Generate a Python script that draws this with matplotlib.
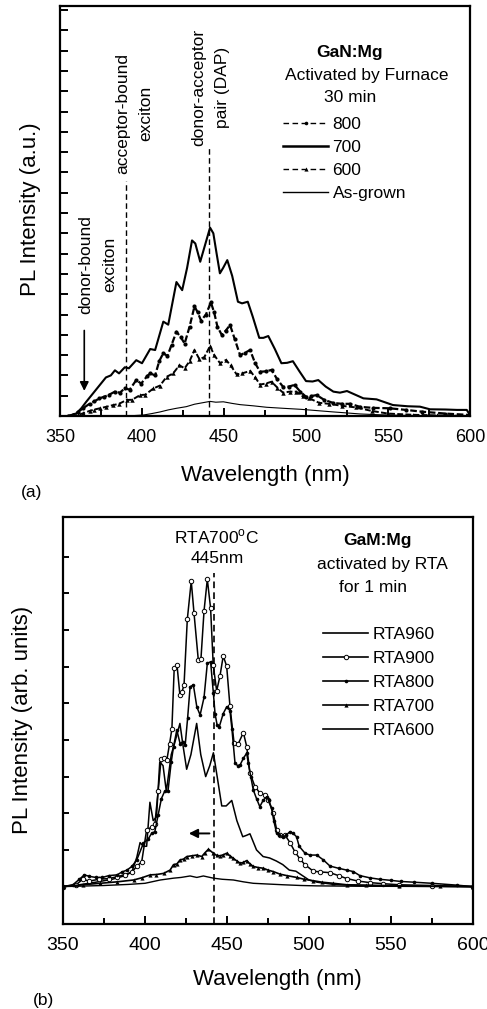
import matplotlib
matplotlib.use("Agg")
import matplotlib.pyplot as plt
from matplotlib.lines import Line2D
from matplotlib.ticker import MultipleLocator

plt.rcParams['font.family'] = ['Liberation Sans', 'DejaVu Sans']

# ---------------- Panel (a) data: furnace activation ----------------
wl_a_800 = [355, 358, 361, 364, 368, 371, 374, 377, 380, 383.5, 386.5, 389.5, 392.5, 396.5, 399.5,
            403, 405, 408, 410.5, 413, 415.5, 418, 421, 423.5, 426, 429, 432, 434, 436, 439, 442,
            444, 446, 448.6, 451, 453.7, 456.5, 459.8, 462.5, 465.9, 469, 472, 475.5, 479, 482.5,
            486, 489.5, 493, 496.5, 500, 503, 506.5, 511, 516.7, 522, 527, 533, 541, 551, 561, 571,
            585, 600]
pl_a_800 = [0, 0.05, 0.2, 0.38, 0.6, 0.72, 0.87, 0.95, 1.05, 1.2, 1.15, 1.36, 1.3, 1.77, 1.6,
            1.95, 2.1, 2.0, 2.7, 3.1, 2.95, 3.5, 4.15, 3.9, 3.57, 4.4, 5.4, 5.1, 4.7, 5.0, 5.6,
            5.1, 4.4, 4.0, 4.2, 4.48, 3.8, 3.0, 3.1, 3.25, 2.6, 2.18, 2.2, 2.27, 1.8,
            1.44, 1.45, 1.53, 1.2, 0.95, 0.98, 1.03, 0.8, 0.64, 0.6, 0.6, 0.45, 0.4, 0.38, 0.3, 0.21,
            0.12, 0.05]

wl_a_700 = [355, 360, 363, 366, 370, 374, 378, 381, 383.5, 386, 389.5, 392, 396.5, 400, 405, 408,
            413, 416, 421, 424.5, 427.5, 430.5, 432.5, 435.5, 438, 441.5, 443.5, 445.5, 447.5, 449.5,
            452, 455, 458.5, 461, 464.5, 467.5, 471.5, 474, 477, 481, 485, 488.5, 492, 496, 500,
            504, 507.5, 512, 516.7, 520.7, 525, 530, 535, 543, 553, 562, 569.5, 575.6, 585, 592,
            598, 600]
pl_a_700 = [0, 0.13, 0.38, 0.7, 1.1, 1.5, 1.9, 2.0, 2.25, 2.1, 2.4, 2.35, 2.75, 2.6, 3.3, 3.25,
            4.65, 4.5, 6.6, 6.2, 7.3, 8.65, 8.5, 7.6, 8.3, 9.28, 9.0, 8.0, 7.03, 7.3,
            7.68, 6.9, 5.63, 5.55, 5.63, 4.9, 3.85, 3.85, 3.94, 3.3, 2.6, 2.62, 2.7, 2.2, 1.72,
            1.7, 1.77, 1.45, 1.2, 1.15, 1.23, 1.05, 0.87, 0.82, 0.54, 0.48, 0.46, 0.33, 0.32, 0.3,
            0.3, 0.05]

wl_a_600 = [357, 361, 364, 368, 371, 374.4, 378, 382.5, 386, 390.6, 394, 398.8, 402, 407, 411, 415,
            419, 422.8, 426, 429, 432, 435, 438, 441.5, 444, 447.6, 451.2, 454, 457.7, 461, 466,
            469, 472, 475.5, 479, 482.5, 486, 490, 494, 498, 502, 508, 514, 522, 530.7, 540, 550,
            565, 580, 600]
pl_a_600 = [0, 0.05, 0.13, 0.25, 0.32, 0.38, 0.45, 0.54, 0.6, 0.79, 0.8, 1.03, 1.05, 1.36, 1.5, 1.93,
            2.1, 2.5, 2.35, 2.7, 3.25, 2.8, 2.9, 3.45, 3.0, 2.6, 2.76, 2.5, 2.05, 2.1, 2.22,
            1.9, 1.55, 1.6, 1.69, 1.4, 1.15, 1.2, 1.2, 0.97, 0.87, 0.65, 0.6, 0.5, 0.42, 0.25, 0.12,
            0.06, 0.03, 0]

wl_a_asg = [385, 395, 401, 406, 411, 416, 421, 427, 432, 437.4, 441.5, 445, 449.6, 455, 459.8, 468,
            476, 486, 496.7, 506, 516.7, 525, 533, 545, 560, 580, 600]
pl_a_asg = [0, 0.02, 0.05, 0.12, 0.2, 0.3, 0.38, 0.46, 0.58, 0.66, 0.72, 0.68, 0.7, 0.62, 0.56, 0.5,
            0.43, 0.38, 0.33, 0.27, 0.2, 0.15, 0.1, 0.06, 0.03, 0.01, 0]

labels_a = ['800', '700', '600', 'As-grown']

# ---------------- Panel (b) data: RTA activation ----------------
wl_b_960 = [350, 360, 370, 380, 388, 392, 395, 397, 399, 401, 403, 405, 407, 409, 411, 413, 416,
            418, 421.3, 423, 425.4, 428, 431.5, 434, 437, 439.5, 441.7, 444, 446.8, 449.5, 452.9,
            456, 459.6, 462, 464, 468, 472, 476, 480, 484, 488, 492, 496, 500, 505, 515, 530,
            560, 600]
pl_b_960 = [0, 0.05, 0.12, 0.2, 0.3, 0.4, 0.8, 1.2, 1.1, 1.1, 2.3, 1.8, 1.9, 3.4, 3.3, 2.6, 3.6,
            3.9, 4.45, 3.9, 3.2, 3.6, 4.45, 3.6, 3.0, 3.3, 3.65, 3.0, 2.2, 2.2, 2.35,
            1.8, 1.36, 1.4, 1.44, 1.0, 0.82, 0.78, 0.7, 0.6, 0.45, 0.42, 0.3, 0.18, 0.12, 0.06, 0.03,
            0.01, 0]

wl_b_900 = [350, 358, 362, 366, 372, 378, 383, 388, 392, 395, 398, 401, 404, 406, 408, 409.8, 411.5,
            413.3, 415, 416.4, 417.8, 419.5, 421.3, 422.5, 423.8, 425.8, 428.2, 429.9, 432.5, 434.1,
            436, 438, 440, 441.6, 443.7, 445.7, 447.7, 449.8, 451.8, 454.3, 456.9, 460, 462, 464,
            467, 470.1, 473.2, 475.2, 478.2, 480.3, 482.3, 485.3, 488.4, 491.4, 494.5, 497.5,
            502.6, 507, 512.8, 518, 523, 530, 537, 545, 555, 575, 600]
pl_b_900 = [0, 0.05, 0.2, 0.15, 0.2, 0.22, 0.27, 0.33, 0.4, 0.55, 0.68, 1.55, 1.62, 1.7, 2.6, 3.47, 3.5,
            3.45, 3.9, 4.3, 5.95, 6.05, 5.22, 5.3, 5.5, 7.29, 8.33, 7.45, 6.18, 6.2,
            7.52, 8.38, 7.59, 6.04, 5.34, 5.74, 6.29, 6.01, 4.92, 3.92, 3.9, 4.2, 3.82, 3.1,
            2.73, 2.55, 2.5, 2.36, 2.0, 1.55, 1.41, 1.41, 1.2, 0.95, 0.75, 0.6,
            0.42, 0.4, 0.38, 0.3, 0.22, 0.15, 0.11, 0.08, 0.05, 0.03, 0]

wl_b_800 = [350, 356, 360, 363, 366, 370, 374, 378, 383, 386, 389, 392, 395, 399, 402, 404, 406,
            408, 410, 412, 414, 416, 417.4, 419.4, 421.4, 423, 424.5, 426, 427.5, 429.5, 431.6,
            433.6, 436, 438, 440, 441.7, 442.7, 444, 445.3, 447.7, 449.8, 451.8, 453, 454.9, 456.5,
            458, 460, 462, 463, 464.5, 466, 468, 470, 472, 474.2, 475.5, 477.2, 478.5, 480.3, 482,
            484.3, 486, 488.4, 490.4, 492.4, 494, 497.6, 500.6, 504.7, 508.7, 512.8, 518, 523, 527,
            531, 537, 543, 550, 556, 564, 575, 590, 600]
pl_b_800 = [0, 0.05, 0.2, 0.32, 0.28, 0.25, 0.25, 0.3, 0.32, 0.4, 0.45, 0.55, 0.73, 1.18, 1.3, 1.45, 1.5,
            1.95, 2.4, 2.6, 2.6, 3.4, 3.82, 4.27, 3.9, 3.95, 3.86, 4.6, 5.45, 5.5, 4.9,
            4.68, 5.16, 6.09, 6.13, 5.27, 4.72, 4.4, 4.36, 4.72, 4.9, 4.8, 4.3, 3.36, 3.3,
            3.32, 3.5, 3.64, 3.36, 3.0, 2.64, 2.4, 2.18, 2.35, 2.45, 2.35, 2.14, 1.8, 1.45, 1.4,
            1.36, 1.4, 1.5, 1.45, 1.36, 1.1, 0.91, 0.86, 0.86, 0.73, 0.56, 0.5, 0.45, 0.41,
            0.3, 0.24, 0.2, 0.17, 0.14, 0.12, 0.09, 0.04, 0]

wl_b_700 = [350, 362, 372.7, 383, 393, 398, 403.2, 407, 411.3, 415.3, 417.4, 419.5, 421.4, 423.5, 425.5,
            428.5, 431.6, 434.6, 436.5, 438.7, 441.7, 443.8, 445.8, 447.8, 449.8, 451.8, 453.9, 456,
            458, 460, 462, 464, 466, 469, 472.2, 475, 478.2, 482.3, 486.4, 492.5, 497, 502.6,
            508, 514.8, 523, 535, 555, 580, 600]
pl_b_700 = [0, 0.05, 0.09, 0.13, 0.18, 0.24, 0.32, 0.33, 0.36, 0.45, 0.6, 0.62, 0.73, 0.75, 0.82,
            0.84, 0.86, 0.82, 0.92, 1.02, 0.91, 0.85, 0.84, 0.87, 0.91, 0.84, 0.77, 0.7,
            0.64, 0.66, 0.71, 0.62, 0.55, 0.52, 0.5, 0.45, 0.41, 0.34, 0.3, 0.25, 0.2, 0.16,
            0.12, 0.09, 0.05, 0.04, 0.02, 0.01, 0]

wl_b_600 = [350, 375, 390, 400, 409.3, 417.4, 422, 427.5, 431.6, 435.6, 441.7, 447, 453.9, 460, 466,
            475, 484.3, 495, 504.6, 530, 600]
pl_b_600 = [0, 0.03, 0.06, 0.09, 0.18, 0.23, 0.25, 0.29, 0.25, 0.29, 0.23, 0.2, 0.18, 0.13, 0.09,
            0.07, 0.05, 0.03, 0.02, 0.01, 0]

labels_b = ['RTA960', 'RTA900', 'RTA800', 'RTA700', 'RTA600']

# ---------------- figure ----------------
fig = plt.figure(figsize=(4.87, 10.09), dpi=100)
axa = fig.add_axes([60 / 487, 1 - 416 / 1009, 410 / 487, 410 / 1009])
axb = fig.add_axes([63 / 487, 1 - 924 / 1009, 410 / 487, 407 / 1009])

DASH = (0, (4.0, 2.5))
DASH_DATA = (0, (3.0, 1.2))

# ---- panel a ----
axa.plot(wl_a_800, pl_a_800, color='k', lw=1.6, ls=DASH_DATA, marker='o', ms=3.0, mew=0)
axa.plot(wl_a_700, pl_a_700, color='k', lw=1.5)
axa.plot(wl_a_600, pl_a_600, color='k', lw=1.4, ls=DASH_DATA, marker='^', ms=3.2, mew=0)
axa.plot(wl_a_asg, pl_a_asg, color='k', lw=0.8)

axa.set_xlim(350, 600)
axa.set_ylim(0, 20.2)
axa.xaxis.set_major_locator(MultipleLocator(50))
axa.xaxis.set_minor_locator(MultipleLocator(25))
axa.set_yticks(range(1, 21))
axa.set_yticklabels([])
axa.tick_params(axis='both', which='both', direction='in', width=1.4, colors='k')
axa.tick_params(axis='x', which='major', length=6, labelsize=13, pad=9)
axa.tick_params(axis='x', which='minor', length=4)
axa.tick_params(axis='y', which='major', length=6, left=True)
for s in axa.spines.values():
    s.set_linewidth(1.6)

axa.set_xlabel('Wavelength (nm)', fontsize=16)
axa.xaxis.set_label_coords(0.5, -0.12)
axa.set_ylabel('PL Intensity (a.u.)', fontsize=16)
axa.yaxis.set_label_coords(-0.047, 0.505)

# marker lines
axa.plot([390.2, 390.2], [0, 11.6], color='k', lw=1.0, ls=DASH)
axa.plot([441.0, 441.0], [0, 13.2], color='k', lw=1.0, ls=DASH)
axa.annotate('', xy=(364.8, 1.1), xytext=(364.8, 4.35),
             arrowprops=dict(arrowstyle='-|>', color='k', lw=1.2, mutation_scale=13))

axa.text(372.9, 7.45, 'donor-bound\nexciton', rotation=90, ha='center', va='center',
         fontsize=12.5, linespacing=1.7, multialignment='center')
axa.text(395.4, 14.9, 'acceptor-bound\nexciton', rotation=90, ha='center', va='center',
         fontsize=12.5, linespacing=1.7, multialignment='center')
axa.text(442.0, 16.2, 'donor-acceptor\npair (DAP)', rotation=90, ha='center', va='center',
         fontsize=12.5, linespacing=1.7, multialignment='center')

axa.text(526.8, 17.93, 'GaN:Mg', ha='center', va='center', fontsize=12.5, fontweight='bold')
axa.text(537.2, 16.8, 'Activated by Furnace', ha='center', va='center', fontsize=12.5)
axa.text(526.8, 15.67, '30 min', ha='center', va='center', fontsize=12.5)

h800 = Line2D([], [], color='k', lw=1.0, ls=DASH, marker='o', ms=2.6, mew=0)
h700 = Line2D([], [], color='k', lw=1.8)
h600 = Line2D([], [], color='k', lw=1.0, ls=DASH, marker='^', ms=3.0, mew=0)
hasg = Line2D([], [], color='k', lw=1.0)
axa.legend([h800, h700, h600, hasg], labels_a, loc='upper left', bbox_to_anchor=(0.544, 0.73),
           frameon=False, fontsize=12.5, handlelength=2.6, handletextpad=0.25, labelspacing=0.46,
           borderpad=0, borderaxespad=0, numpoints=1)

# ---- panel b ----
axb.plot(wl_b_960, pl_b_960, color='k', lw=1.1)
axb.plot(wl_b_900, pl_b_900, color='k', lw=1.1, marker='o', ms=3.2, mfc='white', mec='k', mew=0.7)
axb.plot(wl_b_800, pl_b_800, color='k', lw=1.1, marker='o', ms=2.6, mew=0)
axb.plot(wl_b_700, pl_b_700, color='k', lw=1.2, marker='^', ms=3.0, mew=0)
axb.plot(wl_b_600, pl_b_600, color='k', lw=1.0)

axb.set_xlim(350, 600)
axb.set_ylim(-1.02, 10.08)
axb.xaxis.set_major_locator(MultipleLocator(50))
axb.xaxis.set_minor_locator(MultipleLocator(25))
axb.set_yticks(range(1, 10))
axb.set_yticklabels([])
axb.tick_params(axis='both', which='both', direction='in', width=1.4, colors='k')
axb.tick_params(axis='x', which='major', length=6, labelsize=14, pad=9)
axb.tick_params(axis='x', which='minor', length=4)
axb.tick_params(axis='y', which='major', length=4)
for s in axb.spines.values():
    s.set_linewidth(1.6)

axb.set_xlabel('Wavelength (nm)', fontsize=16)
axb.xaxis.set_label_coords(0.522, -0.11)
axb.set_ylabel('PL Intensity (arb. units)', fontsize=16)
axb.yaxis.set_label_coords(-0.074, 0.501)

axb.plot([442.3, 442.3], [-1.02, 8.54], color='k', lw=1.2, ls=DASH)
axb.annotate('', xy=(425.0, 1.45), xytext=(441.0, 1.45),
             arrowprops=dict(arrowstyle='-|>', color='k', lw=1.4, mutation_scale=13))

axb.text(443.9, 9.54, r'RTA700$^\mathregular{o}$C', ha='center', va='center', fontsize=12.5)
axb.text(443.9, 8.95, '445nm', ha='center', va='center', fontsize=12.5)
axb.text(541.5, 9.45, 'GaM:Mg', ha='center', va='center', fontsize=12.5, fontweight='bold')
axb.text(544.5, 8.79, 'activated by RTA', ha='center', va='center', fontsize=12.5)
axb.text(539.0, 8.17, 'for 1 min', ha='center', va='center', fontsize=12.5)

hb = [Line2D([], [], color='k', lw=1.2),
      Line2D([], [], color='k', lw=1.2, marker='o', ms=3.2, mfc='white', mec='k', mew=0.7),
      Line2D([], [], color='k', lw=1.2, marker='o', ms=2.6, mew=0),
      Line2D([], [], color='k', lw=1.2, marker='^', ms=3.0, mew=0),
      Line2D([], [], color='k', lw=1.2)]
axb.legend(hb, labels_b, loc='upper left', bbox_to_anchor=(0.634, 0.73),
           frameon=False, fontsize=12.5, handlelength=2.6, handletextpad=0.25, labelspacing=0.51,
           borderpad=0, borderaxespad=0, numpoints=1)

fig.text(32 / 487, 1 - 492 / 1009, '(a)', ha='center', va='center', fontsize=12.5)
fig.text(43 / 487, 1 - 1000 / 1009, '(b)', ha='center', va='center', fontsize=12.5)

fig.savefig('out.png', dpi=100)
